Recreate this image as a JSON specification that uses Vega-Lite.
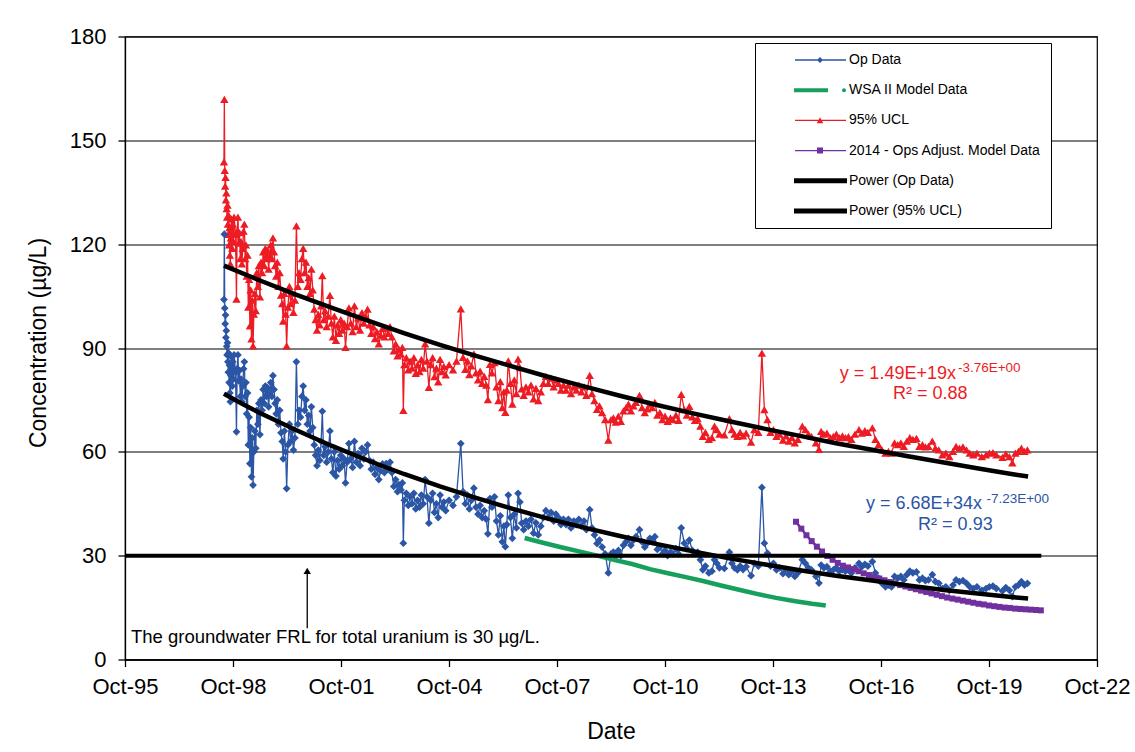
{
"$schema":"https://vega.github.io/schema/vega-lite/v6.json",
"width":972,"height":623,
"autosize":{"type":"none"},
"padding":{"left":125,"top":36.5,"right":38,"bottom":92.5},
"background":"#ffffff",
"config":{
 "font":"Liberation Sans",
 "view":{"stroke":"#000000","strokeWidth":1.2},
 "axis":{"labelColor":"#000000","titleColor":"#000000","domainColor":"#000000","tickColor":"#000000","labelFontSize":22,"titleFontSize":23,"titleFontWeight":"normal","tickSize":7,"tickWidth":1.3,"domainWidth":1.3,"labelFont":"Liberation Sans","titleFont":"Liberation Sans"},
 "legend":{"symbolOpacity":1}
},
"datasets":{
"ops":[
{"d":"1998-07-01","o":104.0,"u":143.8},{"d":"1998-07-05","o":122.9,"u":161.8},{"d":"1998-07-09","o":101.5,"u":141.3},{"d":"1998-07-13","o":97.0,"u":136.8},{"d":"1998-07-17","o":99.5,"u":139.3},{"d":"1998-07-21","o":93.0,"u":132.8},{"d":"1998-07-25","o":95.0,"u":134.8},{"d":"1998-07-29","o":90.5,"u":130.3},{"d":"1998-08-02","o":88.0,"u":127.8},{"d":"1998-08-06","o":91.5,"u":131.3},{"d":"1998-08-10","o":86.0,"u":125.8},{"d":"1998-08-14","o":83.0,"u":122.8},{"d":"1998-08-18","o":88.5,"u":128.3},{"d":"1998-08-22","o":80.0,"u":119.8},{"d":"1998-08-26","o":85.0,"u":124.8},{"d":"1998-08-30","o":77.0,"u":116.8},{"d":"1998-09-04","o":74.5,"u":114.3},{"d":"1998-09-09","o":82.0,"u":121.8},{"d":"1998-09-14","o":87.5,"u":127.3},{"d":"1998-09-19","o":84.0,"u":123.8},{"d":"1998-09-24","o":79.0,"u":118.8},{"d":"1998-09-29","o":86.0,"u":125.8},{"d":"1998-10-05","o":81.0,"u":120.8},{"d":"1998-10-12","o":88.0,"u":127.8},{"d":"1998-10-26","o":83.0,"u":122.8},{"d":"1998-11-05","o":65.8,"u":104.1},
{"d":"1998-11-12","o":84.0,"u":123.8},{"d":"1998-11-20","o":88.0,"u":127.8},{"d":"1998-11-28","o":80.5,"u":120.3},{"d":"1998-12-06","o":83.5,"u":123.3},{"d":"1998-12-14","o":76.0,"u":115.8},{"d":"1998-12-22","o":81.0,"u":120.8},{"d":"1998-12-30","o":74.5,"u":114.3},{"d":"1999-01-08","o":79.0,"u":118.8},{"d":"1999-01-16","o":84.0,"u":123.8},{"d":"1999-01-24","o":86.0,"u":125.8},{"d":"1999-02-01","o":76.0,"u":115.8},{"d":"1999-02-09","o":80.0,"u":119.8},{"d":"1999-02-17","o":71.0,"u":110.8},{"d":"1999-02-25","o":77.0,"u":116.8},{"d":"1999-03-05","o":62.0,"u":101.8},{"d":"1999-03-13","o":70.0,"u":109.8},{"d":"1999-03-21","o":56.6,"u":96.4},{"d":"1999-03-29","o":67.0,"u":106.8},{"d":"1999-04-06","o":52.8,"u":92.6},{"d":"1999-04-14","o":64.0,"u":103.8},{"d":"1999-04-22","o":50.4,"u":90.6},{"d":"1999-04-30","o":60.0,"u":99.8},{"d":"1999-05-10","o":66.0,"u":105.8},{"d":"1999-05-20","o":61.0,"u":100.8},{"d":"1999-05-30","o":72.0,"u":111.8},{"d":"1999-06-10","o":68.0,"u":107.8},{"d":"1999-06-20","o":74.0,"u":113.8},{"d":"1999-07-01","o":65.0,"u":104.8},{"d":"1999-07-12","o":75.0,"u":114.8},{"d":"1999-07-23","o":72.0,"u":111.8},{"d":"1999-08-03","o":78.0,"u":117.8},{"d":"1999-08-14","o":74.0,"u":113.8},{"d":"1999-08-25","o":79.0,"u":118.8},{"d":"1999-09-05","o":76.0,"u":115.8},{"d":"1999-09-16","o":78.5,"u":118.3},{"d":"1999-09-27","o":73.0,"u":112.8},{"d":"1999-10-08","o":77.0,"u":116.8},{"d":"1999-10-19","o":80.0,"u":119.8},{"d":"1999-10-30","o":76.0,"u":115.8},{"d":"1999-11-10","o":82.0,"u":121.8},{"d":"1999-11-21","o":78.0,"u":117.8},{"d":"1999-12-02","o":74.0,"u":113.8},{"d":"1999-12-13","o":71.0,"u":110.8},{"d":"1999-12-24","o":75.0,"u":114.8},
{"d":"2000-01-05","o":68.0,"u":107.8},{"d":"2000-01-18","o":72.0,"u":111.8},{"d":"2000-01-31","o":65.5,"u":105.3},{"d":"2000-02-12","o":63.0,"u":102.8},{"d":"2000-02-22","o":58.0,"u":97.8},{"d":"2000-03-05","o":66.0,"u":105.8},{"d":"2000-03-18","o":60.0,"u":99.8},{"d":"2000-03-28","o":49.4,"u":90.6},{"d":"2000-04-10","o":62.0,"u":101.8},{"d":"2000-04-25","o":68.0,"u":107.8},{"d":"2000-05-08","o":63.0,"u":102.8},{"d":"2000-05-22","o":66.0,"u":105.8},{"d":"2000-06-05","o":60.5,"u":100.3},{"d":"2000-06-20","o":64.0,"u":103.8},{"d":"2000-07-05","o":86.0,"u":125.3},{"d":"2000-07-20","o":68.0,"u":107.8},{"d":"2000-08-02","o":72.0,"u":111.8},{"d":"2000-08-16","o":70.0,"u":109.8},{"d":"2000-08-30","o":76.0,"u":115.8},{"d":"2000-09-12","o":79.0,"u":118.8},{"d":"2000-09-26","o":72.0,"u":111.8},{"d":"2000-10-10","o":75.0,"u":114.8},{"d":"2000-10-24","o":68.0,"u":107.8},{"d":"2000-11-06","o":70.5,"u":110.3},{"d":"2000-11-20","o":66.0,"u":105.8},{"d":"2000-12-04","o":73.0,"u":112.8},{"d":"2000-12-18","o":67.0,"u":106.8},
{"d":"2001-01-02","o":62.0,"u":101.2},{"d":"2001-01-16","o":59.0,"u":98.2},{"d":"2001-01-30","o":56.0,"u":95.2},{"d":"2001-02-13","o":60.5,"u":99.7},{"d":"2001-02-27","o":57.5,"u":96.7},{"d":"2001-03-13","o":63.0,"u":102.2},{"d":"2001-03-25","o":71.7,"u":110.9},{"d":"2001-04-08","o":59.0,"u":98.2},{"d":"2001-04-22","o":61.5,"u":100.7},{"d":"2001-05-08","o":57.0,"u":96.2},{"d":"2001-05-24","o":60.0,"u":99.2},{"d":"2001-06-10","o":66.0,"u":105.2},{"d":"2001-06-25","o":58.0,"u":97.2},{"d":"2001-07-10","o":54.0,"u":93.2},{"d":"2001-07-25","o":60.0,"u":99.2},{"d":"2001-08-10","o":53.0,"u":92.2},{"d":"2001-08-26","o":57.5,"u":96.7},{"d":"2001-09-12","o":55.0,"u":94.2},{"d":"2001-09-28","o":59.0,"u":98.2},{"d":"2001-10-15","o":56.0,"u":95.2},{"d":"2001-11-01","o":58.0,"u":97.2},{"d":"2001-11-15","o":51.0,"u":90.2},{"d":"2001-12-02","o":57.0,"u":96.2},{"d":"2001-12-20","o":62.4,"u":101.6},
{"d":"2002-01-08","o":58.0,"u":97.2},{"d":"2002-01-26","o":55.5,"u":94.7},{"d":"2002-02-14","o":63.0,"u":102.2},{"d":"2002-03-05","o":57.0,"u":96.2},{"d":"2002-03-24","o":59.5,"u":98.7},{"d":"2002-04-12","o":56.0,"u":95.2},{"d":"2002-05-01","o":61.0,"u":100.2},{"d":"2002-05-20","o":58.0,"u":97.2},{"d":"2002-06-08","o":60.0,"u":99.2},{"d":"2002-06-27","o":62.0,"u":101.2},{"d":"2002-07-16","o":57.5,"u":96.7},{"d":"2002-08-04","o":55.0,"u":94.2},{"d":"2002-08-23","o":57.0,"u":96.2},{"d":"2002-09-11","o":53.5,"u":92.7},{"d":"2002-09-30","o":55.5,"u":94.7},{"d":"2002-10-19","o":52.0,"u":91.2},{"d":"2002-11-07","o":54.5,"u":93.7},{"d":"2002-11-26","o":56.5,"u":95.7},{"d":"2002-12-15","o":54.0,"u":93.2},
{"d":"2003-01-03","o":56.6,"u":95.8},{"d":"2003-01-22","o":55.0,"u":94.2},{"d":"2003-02-10","o":57.0,"u":96.2},{"d":"2003-03-01","o":54.0,"u":93.2},{"d":"2003-03-20","o":50.0,"u":89.2},{"d":"2003-04-08","o":52.0,"u":91.2},{"d":"2003-04-27","o":48.5,"u":87.7},{"d":"2003-05-10","o":50.5,"u":89.7},{"d":"2003-06-01","o":49.0,"u":88.2},{"d":"2003-06-15","o":51.0,"u":90.2},{"d":"2003-06-25","o":33.6,"u":72.0},{"d":"2003-07-05","o":46.0,"u":85.2},{"d":"2003-07-25","o":48.0,"u":87.2},{"d":"2003-08-14","o":44.5,"u":83.7},{"d":"2003-09-02","o":47.0,"u":86.2},{"d":"2003-09-21","o":45.0,"u":84.2},{"d":"2003-10-10","o":48.0,"u":87.2},{"d":"2003-10-29","o":43.5,"u":82.7},{"d":"2003-11-17","o":46.0,"u":85.2},{"d":"2003-12-06","o":44.0,"u":83.2},{"d":"2003-12-25","o":47.5,"u":86.7},
{"d":"2004-01-13","o":45.0,"u":84.2},{"d":"2004-02-01","o":52.0,"u":91.2},{"d":"2004-02-20","o":47.0,"u":86.2},{"d":"2004-03-10","o":39.4,"u":78.6},{"d":"2004-03-29","o":46.0,"u":85.2},{"d":"2004-04-17","o":48.0,"u":87.2},{"d":"2004-05-06","o":42.5,"u":81.7},{"d":"2004-05-25","o":45.0,"u":84.2},{"d":"2004-06-13","o":41.0,"u":80.2},{"d":"2004-07-02","o":47.5,"u":86.7},{"d":"2004-07-21","o":44.0,"u":83.2},{"d":"2004-08-09","o":45.5,"u":84.7},{"d":"2004-08-28","o":43.0,"u":82.2},{"d":"2004-10-01","o":46.0,"u":85.2},{"d":"2004-11-10","o":44.5,"u":83.7},{"d":"2004-12-15","o":47.0,"u":86.2},
{"d":"2005-01-28","o":62.4,"u":101.3},{"d":"2005-02-20","o":48.5,"u":87.3},{"d":"2005-03-15","o":45.0,"u":83.8},{"d":"2005-04-05","o":47.5,"u":86.3},{"d":"2005-04-25","o":43.5,"u":82.3},{"d":"2005-05-15","o":46.0,"u":84.8},{"d":"2005-06-10","o":49.5,"u":88.3},{"d":"2005-07-01","o":44.0,"u":82.8},{"d":"2005-07-22","o":42.0,"u":80.8},{"d":"2005-08-12","o":44.5,"u":83.3},{"d":"2005-09-02","o":41.0,"u":79.8},{"d":"2005-09-23","o":43.0,"u":81.8},{"d":"2005-10-14","o":40.5,"u":79.3},{"d":"2005-10-30","o":36.3,"u":75.1},{"d":"2005-11-20","o":46.5,"u":85.3},{"d":"2005-12-10","o":44.0,"u":82.8},
{"d":"2006-01-05","o":47.0,"u":85.8},{"d":"2006-01-25","o":40.0,"u":78.8},{"d":"2006-02-14","o":36.0,"u":74.8},{"d":"2006-03-05","o":41.5,"u":80.3},{"d":"2006-03-25","o":34.0,"u":72.8},{"d":"2006-04-10","o":38.5,"u":77.3},{"d":"2006-04-25","o":32.6,"u":71.4},{"d":"2006-05-10","o":39.0,"u":77.8},{"d":"2006-05-25","o":47.5,"u":86.3},{"d":"2006-06-15","o":41.0,"u":79.8},{"d":"2006-07-05","o":35.0,"u":73.8},{"d":"2006-07-25","o":42.0,"u":80.8},{"d":"2006-08-15","o":38.0,"u":76.8},{"d":"2006-09-01","o":48.0,"u":86.8},{"d":"2006-09-20","o":45.5,"u":84.3},{"d":"2006-10-08","o":39.4,"u":78.2},{"d":"2006-10-28","o":37.5,"u":76.3},{"d":"2006-11-20","o":40.0,"u":78.8},{"d":"2006-12-15","o":38.5,"u":77.3},
{"d":"2007-01-10","o":40.5,"u":79.3},{"d":"2007-02-05","o":36.5,"u":75.3},{"d":"2007-03-01","o":39.5,"u":78.3},{"d":"2007-03-25","o":36.0,"u":74.8},{"d":"2007-04-20","o":38.5,"u":77.3},{"d":"2007-05-15","o":41.0,"u":79.8},{"d":"2007-06-10","o":43.0,"u":81.8},{"d":"2007-07-05","o":41.0,"u":79.8},{"d":"2007-08-01","o":42.5,"u":81.3},{"d":"2007-08-28","o":40.0,"u":78.8},{"d":"2007-09-20","o":42.0,"u":80.8},{"d":"2007-10-15","o":41.0,"u":79.8},{"d":"2007-11-10","o":39.0,"u":77.8},{"d":"2007-12-05","o":40.5,"u":79.3},
{"d":"2008-01-01","o":39.0,"u":77.8},{"d":"2008-01-25","o":40.5,"u":79.3},{"d":"2008-02-20","o":38.0,"u":76.8},{"d":"2008-03-20","o":40.0,"u":78.8},{"d":"2008-04-15","o":39.0,"u":77.8},{"d":"2008-05-10","o":40.5,"u":79.3},{"d":"2008-06-05","o":38.5,"u":77.3},{"d":"2008-07-01","o":40.0,"u":78.8},{"d":"2008-07-25","o":37.5,"u":76.3},{"d":"2008-08-28","o":43.3,"u":82.1},{"d":"2008-09-20","o":38.0,"u":76.8},{"d":"2008-10-15","o":36.0,"u":74.8},{"d":"2008-11-10","o":33.5,"u":72.3},{"d":"2008-12-05","o":34.5,"u":73.3},
{"d":"2009-01-01","o":32.5,"u":71.3},{"d":"2009-02-01","o":30.5,"u":69.3},{"d":"2009-03-05","o":25.0,"u":63.4},{"d":"2009-04-01","o":30.5,"u":69.3},{"d":"2009-04-25","o":31.0,"u":69.8},{"d":"2009-05-20","o":29.8,"u":68.6},{"d":"2009-06-15","o":31.5,"u":70.3},{"d":"2009-07-10","o":30.0,"u":68.8},{"d":"2009-08-05","o":33.0,"u":71.8},{"d":"2009-09-01","o":34.0,"u":72.8},{"d":"2009-09-25","o":35.0,"u":73.8},{"d":"2009-10-20","o":33.0,"u":71.8},{"d":"2009-11-15","o":34.5,"u":73.3},{"d":"2009-12-10","o":35.5,"u":74.3},
{"d":"2010-01-15","o":37.5,"u":76.3},{"d":"2010-02-10","o":34.0,"u":72.8},{"d":"2010-03-10","o":32.5,"u":71.3},{"d":"2010-04-05","o":33.6,"u":72.4},{"d":"2010-05-01","o":35.0,"u":73.8},{"d":"2010-05-25","o":34.0,"u":72.8},{"d":"2010-06-20","o":35.5,"u":74.3},{"d":"2010-07-15","o":31.8,"u":70.6},{"d":"2010-08-10","o":32.5,"u":71.3},{"d":"2010-09-05","o":30.5,"u":69.3},{"d":"2010-10-01","o":31.5,"u":70.3},{"d":"2010-10-28","o":30.0,"u":68.8},{"d":"2010-11-25","o":31.0,"u":69.8},{"d":"2010-12-20","o":30.5,"u":69.3},
{"d":"2011-01-20","o":32.0,"u":70.6},{"d":"2011-02-15","o":30.5,"u":69.1},{"d":"2011-03-15","o":38.0,"u":76.6},{"d":"2011-04-15","o":33.6,"u":72.2},{"d":"2011-05-10","o":32.0,"u":70.6},{"d":"2011-06-05","o":34.5,"u":73.1},{"d":"2011-07-05","o":31.5,"u":70.1},{"d":"2011-08-01","o":30.5,"u":69.1},{"d":"2011-08-28","o":31.0,"u":69.6},{"d":"2011-09-25","o":28.8,"u":67.4},{"d":"2011-10-20","o":25.9,"u":64.5},{"d":"2011-11-15","o":27.0,"u":65.6},{"d":"2011-12-20","o":25.0,"u":63.6},
{"d":"2012-01-20","o":25.5,"u":64.1},{"d":"2012-02-15","o":28.8,"u":67.4},{"d":"2012-03-10","o":27.8,"u":66.4},{"d":"2012-04-05","o":26.5,"u":65.1},{"d":"2012-05-25","o":26.3,"u":64.9},{"d":"2012-07-15","o":31.0,"u":69.6},{"d":"2012-08-10","o":27.8,"u":66.4},{"d":"2012-09-05","o":26.5,"u":65.1},{"d":"2012-10-05","o":25.9,"u":64.5},{"d":"2012-11-01","o":27.0,"u":65.6},{"d":"2012-12-01","o":26.0,"u":64.6},
{"d":"2013-01-01","o":26.8,"u":65.4},{"d":"2013-02-20","o":24.2,"u":62.8},{"d":"2013-03-25","o":27.8,"u":66.4},{"d":"2013-05-05","o":27.0,"u":65.6},{"d":"2013-06-10","o":49.7,"u":88.5},{"d":"2013-07-05","o":33.6,"u":72.2},{"d":"2013-08-05","o":30.7,"u":69.3},{"d":"2013-09-05","o":27.0,"u":65.6},{"d":"2013-10-05","o":27.8,"u":66.4},{"d":"2013-11-05","o":25.9,"u":64.5},{"d":"2013-12-05","o":26.5,"u":65.1},
{"d":"2014-01-10","o":24.8,"u":63.4},{"d":"2014-02-10","o":26.0,"u":64.6},{"d":"2014-03-10","o":24.5,"u":63.1},{"d":"2014-04-10","o":25.5,"u":64.1},{"d":"2014-05-10","o":24.0,"u":62.6},{"d":"2014-06-10","o":25.0,"u":63.6},{"d":"2014-07-25","o":28.8,"u":67.4},{"d":"2014-08-25","o":27.8,"u":66.4},{"d":"2014-09-25","o":26.5,"u":65.1},{"d":"2014-10-25","o":25.9,"u":64.5},{"d":"2014-12-10","o":24.0,"u":62.6},
{"d":"2015-01-10","o":22.1,"u":60.7},{"d":"2015-02-01","o":27.3,"u":65.9},{"d":"2015-03-01","o":26.5,"u":65.1},{"d":"2015-04-01","o":26.8,"u":65.4},{"d":"2015-05-05","o":25.5,"u":64.1},{"d":"2015-06-05","o":25.9,"u":64.5},{"d":"2015-07-05","o":26.5,"u":65.1},{"d":"2015-08-05","o":25.5,"u":64.1},{"d":"2015-09-05","o":26.0,"u":64.6},{"d":"2015-10-05","o":25.5,"u":64.1},{"d":"2015-11-05","o":25.8,"u":64.4},{"d":"2015-12-05","o":25.0,"u":63.6},
{"d":"2016-01-10","o":26.5,"u":65.1},{"d":"2016-02-20","o":27.8,"u":66.4},{"d":"2016-03-20","o":26.8,"u":65.4},{"d":"2016-04-20","o":27.5,"u":66.1},{"d":"2016-05-20","o":27.0,"u":65.6},{"d":"2016-07-05","o":28.3,"u":66.9},{"d":"2016-08-05","o":25.0,"u":63.6},{"d":"2016-09-05","o":23.5,"u":62.1},{"d":"2016-10-10","o":22.0,"u":60.6},{"d":"2016-11-15","o":21.0,"u":59.6},{"d":"2016-12-15","o":21.5,"u":60.1},
{"d":"2017-01-15","o":21.0,"u":59.6},{"d":"2017-02-15","o":24.0,"u":62.6},{"d":"2017-03-20","o":23.5,"u":62.1},{"d":"2017-04-20","o":24.0,"u":62.6},{"d":"2017-05-20","o":23.0,"u":61.6},{"d":"2017-06-20","o":24.5,"u":63.1},{"d":"2017-07-20","o":25.5,"u":64.1},{"d":"2017-08-20","o":25.0,"u":63.6},{"d":"2017-09-25","o":25.3,"u":63.9},{"d":"2017-10-25","o":23.0,"u":61.6},{"d":"2017-11-25","o":23.5,"u":62.1},{"d":"2017-12-25","o":22.8,"u":61.4},
{"d":"2018-01-25","o":23.0,"u":61.6},{"d":"2018-03-05","o":24.5,"u":63.1},{"d":"2018-04-05","o":22.5,"u":61.1},{"d":"2018-05-10","o":22.0,"u":60.6},{"d":"2018-06-15","o":20.5,"u":59.1},{"d":"2018-07-20","o":21.0,"u":59.6},{"d":"2018-08-25","o":20.0,"u":58.6},{"d":"2018-10-01","o":21.5,"u":60.1},{"d":"2018-11-01","o":23.0,"u":61.6},{"d":"2018-12-05","o":22.5,"u":61.1},
{"d":"2019-01-10","o":22.8,"u":61.4},{"d":"2019-02-15","o":22.0,"u":60.6},{"d":"2019-03-20","o":21.0,"u":59.6},{"d":"2019-04-25","o":20.5,"u":59.1},{"d":"2019-06-01","o":21.0,"u":59.6},{"d":"2019-07-20","o":20.0,"u":58.6},{"d":"2019-09-01","o":20.5,"u":59.1},{"d":"2019-10-05","o":21.0,"u":59.6},{"d":"2019-11-10","o":21.2,"u":59.8},{"d":"2019-12-15","o":20.5,"u":59.1},
{"d":"2020-02-15","o":19.8,"u":58.4},{"d":"2020-03-20","o":20.8,"u":59.4},{"d":"2020-04-25","o":20.0,"u":58.6},{"d":"2020-05-25","o":18.2,"u":56.8},{"d":"2020-06-25","o":21.0,"u":59.6},{"d":"2020-07-25","o":21.5,"u":60.1},{"d":"2020-08-25","o":22.5,"u":61.1},{"d":"2020-09-25","o":21.5,"u":60.1},{"d":"2020-10-25","o":22.0,"u":60.6}
],
"wsa":[
{"d":"2006-11-07","v":35.1},{"d":"2007-05-01","v":33.8},{"d":"2007-11-01","v":32.5},{"d":"2008-05-01","v":31.3},{"d":"2008-11-01","v":30.1},{"d":"2009-05-01","v":28.8},{"d":"2009-11-01","v":27.6},{"d":"2010-05-01","v":26.1},{"d":"2010-11-01","v":24.9},{"d":"2011-05-01","v":23.8},{"d":"2011-11-01","v":22.6},{"d":"2012-05-01","v":21.3},{"d":"2012-11-01","v":20.1},{"d":"2013-05-01","v":18.9},{"d":"2013-11-01","v":17.8},{"d":"2014-05-01","v":16.9},{"d":"2014-11-01","v":16.1},{"d":"2015-03-20","v":15.6}
],
"adj":[
{"d":"2014-05-22","v":39.8},{"d":"2014-07-15","v":37.8},{"d":"2014-09-05","v":35.9},{"d":"2014-10-28","v":34.2},{"d":"2014-12-20","v":32.6},{"d":"2015-02-10","v":31.2},{"d":"2015-04-05","v":29.9},{"d":"2015-05-28","v":28.8},{"d":"2015-07-20","v":27.9},{"d":"2015-09-10","v":27.1},{"d":"2015-11-02","v":26.6},{"d":"2015-12-25","v":26.1},{"d":"2016-02-15","v":25.5},{"d":"2016-04-08","v":24.9},{"d":"2016-05-31","v":24.4},{"d":"2016-07-22","v":23.8},{"d":"2016-09-13","v":23.4},{"d":"2016-11-05","v":22.9},{"d":"2016-12-28","v":22.4},{"d":"2017-02-19","v":22.0},{"d":"2017-04-13","v":21.5},{"d":"2017-06-05","v":21.1},{"d":"2017-07-28","v":20.7},{"d":"2017-09-19","v":20.3},{"d":"2017-11-11","v":19.9},{"d":"2018-01-03","v":19.5},{"d":"2018-02-25","v":19.1},{"d":"2018-04-19","v":18.7},{"d":"2018-06-11","v":18.3},{"d":"2018-08-03","v":17.9},{"d":"2018-09-25","v":17.6},{"d":"2018-11-17","v":17.3},{"d":"2019-01-09","v":17.0},{"d":"2019-03-03","v":16.7},{"d":"2019-04-25","v":16.4},{"d":"2019-06-17","v":16.1},{"d":"2019-08-09","v":15.9},{"d":"2019-10-01","v":15.6},{"d":"2019-11-23","v":15.4},{"d":"2020-01-15","v":15.2},{"d":"2020-03-08","v":15.0},{"d":"2020-04-30","v":14.9},{"d":"2020-06-22","v":14.7},{"d":"2020-08-14","v":14.6},{"d":"2020-10-06","v":14.5},{"d":"2020-11-28","v":14.4},{"d":"2021-01-20","v":14.3},{"d":"2021-03-10","v":14.2}
],
"pw":[
{"s":"op","d":"1998-07-01","v":76.8},{"s":"op","d":"1999-01-01","v":73.9},{"s":"op","d":"1999-07-01","v":71.2},{"s":"op","d":"2000-07-01","v":66.3},{"s":"op","d":"2001-07-01","v":61.7},{"s":"op","d":"2002-07-01","v":57.5},{"s":"op","d":"2003-07-01","v":53.6},{"s":"op","d":"2004-07-01","v":50.0},{"s":"op","d":"2005-07-01","v":46.7},{"s":"op","d":"2006-07-01","v":43.6},{"s":"op","d":"2007-07-01","v":40.7},{"s":"op","d":"2008-07-01","v":38.1},{"s":"op","d":"2009-07-01","v":35.7},{"s":"op","d":"2010-07-01","v":33.4},{"s":"op","d":"2011-07-01","v":31.3},{"s":"op","d":"2012-07-01","v":29.3},{"s":"op","d":"2013-07-01","v":27.5},{"s":"op","d":"2014-07-01","v":25.8},{"s":"op","d":"2015-07-01","v":24.2},{"s":"op","d":"2016-07-01","v":22.8},{"s":"op","d":"2017-07-01","v":21.4},{"s":"op","d":"2018-07-01","v":20.1},{"s":"op","d":"2019-07-01","v":19.0},{"s":"op","d":"2020-07-01","v":17.9},{"s":"op","d":"2020-11-01","v":17.6},
{"s":"ucl","d":"1998-07-01","v":113.8},{"s":"ucl","d":"1999-07-01","v":109.5},{"s":"ucl","d":"2000-07-01","v":105.4},{"s":"ucl","d":"2001-07-01","v":101.6},{"s":"ucl","d":"2002-07-01","v":97.9},{"s":"ucl","d":"2003-07-01","v":94.3},{"s":"ucl","d":"2004-07-01","v":90.9},{"s":"ucl","d":"2005-07-01","v":87.7},{"s":"ucl","d":"2006-07-01","v":84.7},{"s":"ucl","d":"2007-07-01","v":81.7},{"s":"ucl","d":"2008-07-01","v":78.9},{"s":"ucl","d":"2009-07-01","v":76.2},{"s":"ucl","d":"2010-07-01","v":73.6},{"s":"ucl","d":"2011-07-01","v":71.2},{"s":"ucl","d":"2012-07-01","v":68.9},{"s":"ucl","d":"2013-07-01","v":66.7},{"s":"ucl","d":"2014-07-01","v":64.6},{"s":"ucl","d":"2015-07-01","v":62.5},{"s":"ucl","d":"2016-07-01","v":60.6},{"s":"ucl","d":"2017-07-01","v":58.7},{"s":"ucl","d":"2018-07-01","v":56.9},{"s":"ucl","d":"2019-07-01","v":55.1},{"s":"ucl","d":"2020-07-01","v":53.4},{"s":"ucl","d":"2020-11-01","v":52.9}
]
},
"encoding":{
 "x":{"field":"d","type":"temporal","title":"Date",
  "scale":{"type":"utc","domain":[{"year":1995,"month":10,"date":1,"utc":true},{"year":2022,"month":10,"date":1,"utc":true}]},
  "axis":{"values":[{"year":1995,"month":10,"date":1,"utc":true},{"year":1998,"month":10,"date":1,"utc":true},{"year":2001,"month":10,"date":1,"utc":true},{"year":2004,"month":10,"date":1,"utc":true},{"year":2007,"month":10,"date":1,"utc":true},{"year":2010,"month":10,"date":1,"utc":true},{"year":2013,"month":10,"date":1,"utc":true},{"year":2016,"month":10,"date":1,"utc":true},{"year":2019,"month":10,"date":1,"utc":true},{"year":2022,"month":10,"date":1,"utc":true}],
   "labelExpr":"utcFormat(datum.value, '%b-%y')","grid":false,"labelPadding":10,"labelFlush":false,"labelOverlap":false,"titleY":71.5,"titleBaseline":"middle"}},
 "y":{"field":"v","type":"quantitative","title":"Concentration (µg/L)","scale":{"domain":[0,180],"nice":false},
  "axis":{"values":[0,30,60,90,120,150,180],"grid":true,"gridColor":"#000000","gridWidth":1.1,"labelPadding":12,"titleX":-87,"titleY":306,"titleAngle":270,"titleBaseline":"middle","titleAlign":"center"}}
},
"layer":[
 {"data":{"name":"ops"},
  "mark":{"type":"line","color":"#ed1c24","strokeWidth":1.3},
  "encoding":{"y":{"field":"u","type":"quantitative","title":"Concentration (µg/L)","scale":{"domain":[0,180],"nice":false}}}},
 {"data":{"name":"ops"},
  "mark":{"type":"point","shape":"triangle-up","size":70,"filled":true,"color":"#ed1c24","opacity":1},
  "encoding":{"y":{"field":"u","type":"quantitative","title":"Concentration (µg/L)","scale":{"domain":[0,180],"nice":false}}}},
 {"data":{"name":"ops"},
  "mark":{"type":"line","color":"#2b55a5","strokeWidth":1.3},
  "encoding":{"y":{"field":"o","type":"quantitative","title":"Concentration (µg/L)","scale":{"domain":[0,180],"nice":false}}}},
 {"data":{"name":"ops"},
  "mark":{"type":"point","shape":"diamond","size":60,"filled":true,"color":"#2b55a5","opacity":1},
  "encoding":{"y":{"field":"o","type":"quantitative","title":"Concentration (µg/L)","scale":{"domain":[0,180],"nice":false}}}},
 {"data":{"name":"wsa"},
  "mark":{"type":"line","color":"#17a05d","strokeWidth":4.5}},
 {"data":{"name":"adj"},
  "mark":{"type":"line","color":"#7030a0","strokeWidth":2.5,"point":{"shape":"square","size":36,"filled":true,"color":"#7030a0","opacity":1}}},
 {"data":{"name":"pw"},
  "mark":{"type":"line","color":"#000000","strokeWidth":4.5},
  "encoding":{"detail":{"field":"s"}}},
 {"data":{"values":[{"d":"1995-10-01","v":30},{"d":"2021-03-15","v":30}]},
  "mark":{"type":"line","color":"#000000","strokeWidth":4}},
 {"data":{"values":[{"d":"2000-10-23","v":9.0,"v2":25.0}]},
  "mark":{"type":"rule","color":"#000000","strokeWidth":1.3},
  "encoding":{"y2":{"field":"v2"}}},
 {"data":{"values":[{"d":"2000-10-23","v":25.6}]},
  "mark":{"type":"point","shape":"triangle-up","size":55,"filled":true,"color":"#000000","opacity":1}},
 {"data":{"values":[{"d":"1995-12-01","v":6.5,"t":"The groundwater FRL for total uranium is 30 µg/L."}]},
  "mark":{"type":"text","align":"left","baseline":"middle","fontSize":18.5,"color":"#000000"},
  "encoding":{"text":{"field":"t"}}},
 {"data":{"values":[{"d":"2015-08-10","v":82.5,"t":"y = 1.49E+19x"},{"d":"2017-01-30","v":76.7,"t":"R² = 0.88"}]},
  "mark":{"type":"text","align":"left","baseline":"middle","fontSize":18,"color":"#ed1c24"},
  "encoding":{"text":{"field":"t"}}},
 {"data":{"values":[{"d":"2018-11-20","v":84.2,"t":"-3.76E+00"}]},
  "mark":{"type":"text","align":"left","baseline":"middle","fontSize":13.5,"color":"#ed1c24"},
  "encoding":{"text":{"field":"t"}}},
 {"data":{"values":[{"d":"2016-04-30","v":44.9,"t":"y = 6.68E+34x"},{"d":"2017-10-12","v":38.9,"t":"R² = 0.93"}]},
  "mark":{"type":"text","align":"left","baseline":"middle","fontSize":18,"color":"#2b55a5"},
  "encoding":{"text":{"field":"t"}}},
 {"data":{"values":[{"d":"2019-09-05","v":46.4,"t":"-7.23E+00"}]},
  "mark":{"type":"text","align":"left","baseline":"middle","fontSize":13.5,"color":"#2b55a5"},
  "encoding":{"text":{"field":"t"}}},
 {"data":{"values":[{"s":"Op Data"}]},
  "transform":[{"filter":"false"}],
  "mark":{"type":"point","filled":true,"opacity":1,"size":100},
  "encoding":{
   "color":{"field":"s","type":"nominal",
    "scale":{"domain":["Op Data","WSA II Model Data","95% UCL","2014 - Ops Adjust. Model Data","Power (Op Data)","Power (95% UCL)"],"range":["#2b55a5","#17a05d","#ed1c24","#7030a0","#000000","#000000"]},
    "legend":{"title":null,"orient":"none","legendX":630,"legendY":6.5,"direction":"vertical","padding":10,"strokeColor":"#000000","fillColor":"#ffffff","labelFontSize":14,"labelFont":"Liberation Sans","labelColor":"#000000","symbolSize":100,"symbolStrokeWidth":0,"rowPadding":16.2,"labelOffset":70,"labelLimit":400,"symbolOpacity":1}},
   "shape":{"field":"s","type":"nominal",
    "scale":{"domain":["Op Data","WSA II Model Data","95% UCL","2014 - Ops Adjust. Model Data","Power (Op Data)","Power (95% UCL)"],
     "range":["M4.6,-0.14H14.8V0.14H4.6Z M9.6,-0.6L10.2,0L9.6,0.6L9,0Z","M4.4,-0.4H11.2V0.4H4.4Z M14,0A0.4,0.4 0 1,0 14.8,0A0.4,0.4 0 1,0 14,0Z","M4.6,-0.14H14.8V0.14H4.6Z M9.6,-0.65L10.25,0.55H8.95Z","M4.6,-0.14H14.8V0.14H4.6Z M9,-0.6H10.2V0.6H9Z","M4.4,-0.5H15V0.5H4.4Z","M4.4,-0.5H15V0.5H4.4Z"]}}
  }}
]
}
